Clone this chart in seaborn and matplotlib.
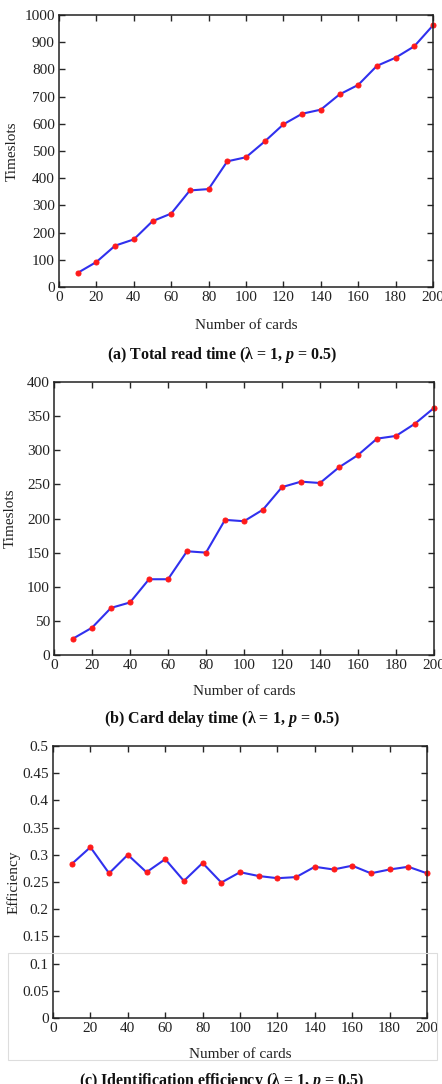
import matplotlib
matplotlib.use("Agg")
import matplotlib.pyplot as plt
import seaborn as sns
import pandas as pd
from matplotlib.patches import Rectangle

sns.set_style("ticks")
plt.rcParams["font.family"] = ["Liberation Serif", "DejaVu Serif"]
plt.rcParams["mathtext.fontset"] = "custom"
plt.rcParams["mathtext.it"] = "Liberation Serif:bold:italic"
plt.rcParams["mathtext.rm"] = "Liberation Serif:bold"

# ---------------- data ----------------
cards = [10, 20, 30, 40, 50, 60, 70, 80, 90, 100,
         110, 120, 130, 140, 150, 160, 170, 180, 190, 200]
total_read = [52, 92, 152, 175, 242, 270, 355, 360, 462, 477,
              535, 598, 637, 652, 708, 743, 813, 843, 885, 962]
delay_time = [24, 40, 69, 77, 111, 111, 152, 150, 198, 196,
              213, 246, 254, 252, 275, 293, 317, 321, 339, 362]
efficiency = [0.283, 0.314, 0.266, 0.300, 0.268, 0.292, 0.252, 0.285, 0.249, 0.268,
              0.261, 0.257, 0.259, 0.278, 0.273, 0.280, 0.266, 0.273, 0.278, 0.266]

captions = [r"(a) Total read time (λ = 1, $p$ = 0.5)",
            r"(b) Card delay time (λ = 1, $p$ = 0.5)",
            r"(c) Identification efficiency (λ = 1, $p$ = 0.5)"]

W, H = 442, 1084
fig = plt.figure(figsize=(W / 100, H / 100), dpi=100)


def px_axes(l, t, r, b):
    return fig.add_axes([l / W, 1 - b / H, (r - l) / W, (b - t) / H])


panels = [
    dict(box=(59, 15, 433, 287), y=total_read, ylabel="Timeslots",
         ylim=(0, 1000), yticks=range(0, 1001, 100), ytl=None,
         ylab_x=-0.126, xlab_y=-0.14, cap_y=355),
    dict(box=(54, 382, 434, 655), y=delay_time, ylabel="Timeslots",
         ylim=(0, 400), yticks=range(0, 401, 50), ytl=None,
         ylab_x=-0.116, xlab_y=-0.132, cap_y=719),
    dict(box=(53, 746, 427, 1018), y=efficiency, ylabel="Efficiency",
         ylim=(0, 0.5), yticks=[i * 0.05 for i in range(11)],
         ytl=["0", "0.05", "0.1", "0.15", "0.2", "0.25", "0.3", "0.35", "0.4", "0.45", "0.5"],
         ylab_x=-0.104, xlab_y=-0.136, cap_y=1081),
]

for p, cap in zip(panels, captions):
    ax = px_axes(*p["box"])
    df = pd.DataFrame({"cards": cards, "val": p["y"]})
    sns.lineplot(data=df, x="cards", y="val", ax=ax, color="#3030ee", linewidth=1.5,
                 marker="o", markersize=3.6, markerfacecolor="#ff1a1a",
                 markeredgecolor="#ff1a1a", clip_on=False)
    ax.set_xlim(0, 200)
    ax.set_ylim(*p["ylim"])
    ax.set_xticks(range(0, 201, 20))
    ax.set_yticks(list(p["yticks"]))
    if p["ytl"] is not None:
        ax.set_yticklabels(p["ytl"])
    ax.tick_params(direction="in", top=True, right=True, length=4, width=1,
                   labelsize=11, labelcolor="#222222", pad=3)
    for s in ax.spines.values():
        s.set_linewidth(1.1)
        s.set_color("#222222")
    ax.set_xlabel("Number of cards", fontsize=11, color="#222222")
    ax.set_ylabel(p["ylabel"], fontsize=11, color="#222222")
    ax.xaxis.set_label_coords(0.5, p["xlab_y"])
    ax.xaxis.label.set_va("center")
    ax.yaxis.set_label_coords(p["ylab_x"], 0.5)
    ax.yaxis.label.set_va("center")
    fig.text(222 / W, 1 - p["cap_y"] / H, cap, ha="center", va="center",
             fontsize=11.5, fontweight="bold", color="#111111")

# faint frame seen around the lower part of panel (c)
fig.add_artist(Rectangle((8 / W, 1 - 1060 / H), (437 - 8) / W, (1060 - 953) / H,
                         transform=fig.transFigure, fill=False,
                         edgecolor="#dddddd", linewidth=0.8))

fig.savefig("out.png", dpi=100)
